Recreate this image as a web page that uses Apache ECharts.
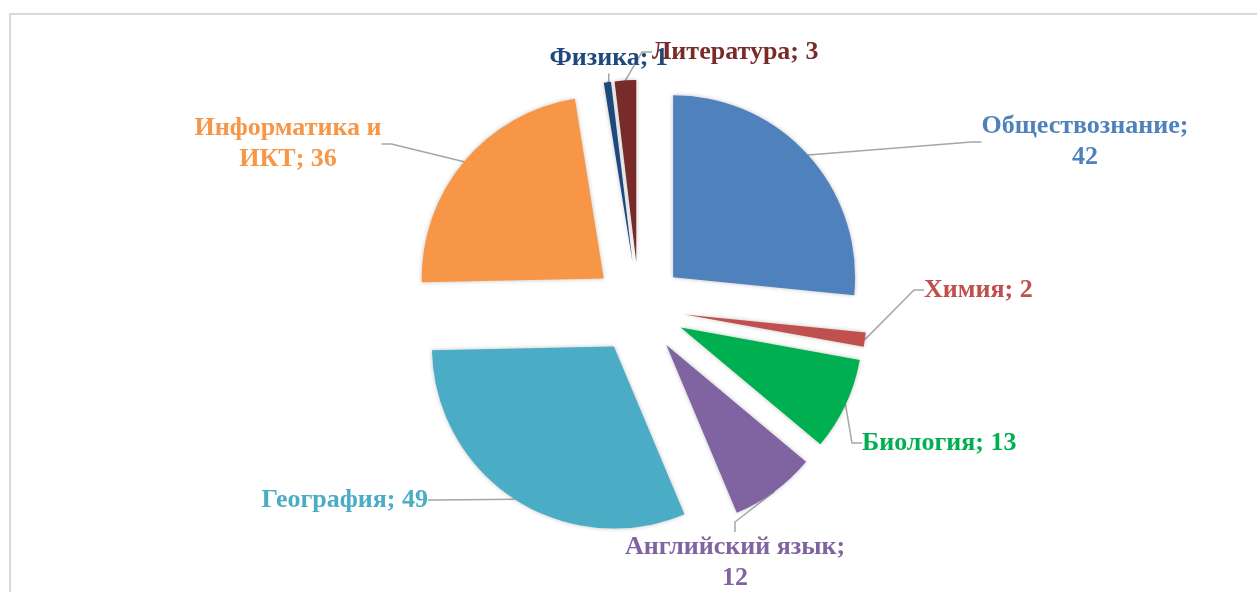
<!DOCTYPE html>
<html>
<head>
<meta charset="utf-8">
<script src="https://cdn.jsdelivr.net/npm/echarts@6/dist/echarts.min.js"></script>
<style>
  html, body { margin: 0; padding: 0; background: #fff; }
  #chart { width: 1257px; height: 592px; }
</style>
</head>
<body>
<div id="chart"></div>
<script>
// data
var subjects = ['Обществознание', 'Химия', 'Биология', 'Английский язык', 'География', 'Информатика и ИКТ', 'Физика', 'Литература'];
var counts = [42, 2, 13, 12, 49, 36, 1, 3];
var colors = ['#4F81BD', '#C0504D', '#00B050', '#8064A2', '#4BACC6', '#F79646', '#1F497D', '#772C2A'];

// label placement: x, y, align; and where the text wraps
var labelAnchors = [
    [1085, 142, 'center'],
    [924, 290, 'left'],
    [862, 443, 'left'],
    [735, 563, 'center'],
    [428, 500, 'right'],
    [288, 144, 'center'],
    [668, 58, 'right'],
    [652, 52, 'left']
];
var labelBreakAfter = ['Обществознание;', null, null, 'Английский язык;', null, 'Информатика и', null, null];

var center = [639, 308];
var radius = 182;
var explode = 46;

// the exploded slices
var sliceData = subjects.map(function (name, i) {
    return { name: name, value: counts[i], selected: true, itemStyle: { color: colors[i] } };
});
// same values again, invisible, only to carry the labels and leader lines
var labelData = subjects.map(function (name, i) {
    return { name: name, value: counts[i], itemStyle: { color: 'rgba(0,0,0,0)' }, label: { color: colors[i] } };
});

var chart = echarts.init(document.getElementById('chart'));
chart.setOption({
    animation: false,
    graphic: [{
        type: 'rect',
        silent: true,
        z: -1,
        shape: { x: 10, y: 14, width: 1300, height: 640 },
        style: { fill: 'none', stroke: '#d9d9d9', lineWidth: 2 }
    }],
    series: [
        {
            type: 'pie',
            center: center,
            radius: radius,
            startAngle: 90,
            clockwise: true,
            selectedMode: 'multiple',
            selectedOffset: explode,
            silent: true,
            emphasis: { disabled: true },
            itemStyle: {
                shadowBlur: 4,
                shadowColor: 'rgba(0,0,0,0.25)'
            },
            label: { show: false },
            labelLine: { show: false },
            data: sliceData
        },
        {
            type: 'pie',
            center: center,
            radius: radius + explode,
            startAngle: 90,
            clockwise: true,
            silent: true,
            emphasis: { disabled: true },
            label: {
                show: true,
                formatter: function (p) {
                    var s = p.name + '; ' + p.value;
                    var b = labelBreakAfter[p.dataIndex];
                    return b ? s.replace(b + ' ', b + '\n') : s;
                },
                fontFamily: 'Liberation Serif',
                fontWeight: 'bold',
                fontSize: 26,
                lineHeight: 31
            },
            labelLine: {
                show: true,
                length: 10,
                length2: 10,
                lineStyle: { color: '#a6a6a6', width: 1.5 }
            },
            labelLayout: function (params) {
                var a = labelAnchors[params.dataIndex];
                return { x: a[0], y: a[1], align: a[2], verticalAlign: 'middle' };
            },
            data: labelData
        }
    ]
});
window.addEventListener('resize', function () {
    chart.resize();
});
</script>
</body>
</html>
